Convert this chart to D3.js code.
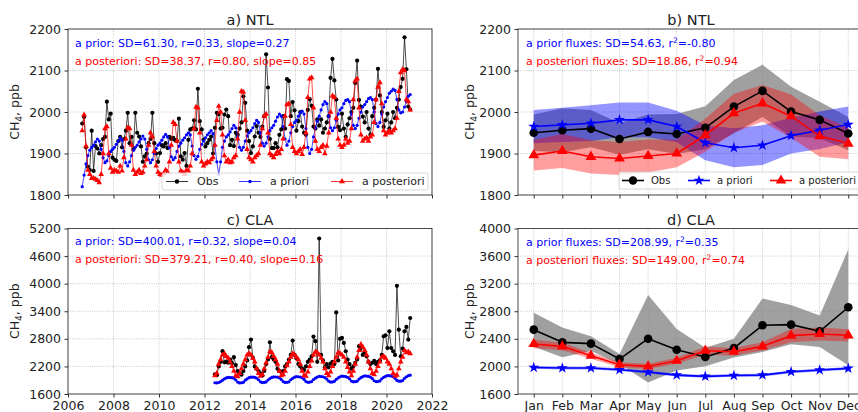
<!DOCTYPE html>
<html>
<head>
<meta charset="utf-8">
<title>CH4 NTL / CLA</title>
<script src="https://d3js.org/d3.v7.min.js"></script>
<style>
body { margin: 0; background: #fff; }
svg { display: block; font-family: "DejaVu Sans", sans-serif; }
</style>
</head>
<body>
<div id="chart"></div>
<script>

// ---- tick labels / categories
var yearTicks = [2006, 2008, 2010, 2012, 2014, 2016, 2018, 2020, 2022];
var ntlTicks = [1800, 1900, 2000, 2100, 2200];
var claTicks = [1600, 2200, 2800, 3400, 4000, 4600, 5200];
var claMonthTicks = [1600, 2000, 2400, 2800, 3200, 3600, 4000];
var months = ["Jan", "Feb", "Mar", "Apr", "May", "Jun", "Jul", "Aug", "Sep", "Oct", "Nov", "Dec"];

// first month of each monthly record [year, month]
var ntlStart = [2006, 8];
var claStart = [2012, 6];

// ---- NTL monthly series, Aug 2006 .. Jan 2021 (ppb)
var ntlObs = [
  1972, 1988, 1915, 1868, 1860,
  1955, 1858, 1918, 1912, 1900, 1920, 1935, 1940, 2025, 1982, 1996, 1890,
  1885, 1882, 1930, 1940, 1915, 1935, 1955, 1998, 1925, 1940, 1910, 1998,
  1950, 1941, 1917, 1880, 1893, 1900, 1925, 1935, 1998, 1925, 1900, 1880,
  1901, 1920, 1917, 1925, 1913, 1940, 1935, 1938, 1932, 1930, 1984, 1893,
  1885, 1901, 1870, 1933, 1958, 1960, 1980, 1958, 2056, 1978, 1958, 1933,
  1917, 1925, 1933, 1941, 1900, 1962, 1998, 1995, 1960, 1962, 1994, 2006,
  1990, 1920, 1933, 1918, 1950, 1945, 1960, 1975, 2038, 2022, 1955, 1930,
  1901, 1917, 1941, 1966, 1950, 1940, 1965, 1990, 2139, 2059, 1935, 1913,
  1913, 1925, 1915, 1945, 1958, 1990, 1960, 2079, 2075, 1990, 2024, 2004,
  1955, 1978, 2000, 1965, 1950, 1945, 2005, 2031, 2015, 1965, 1960, 1982,
  1967, 1982, 1950, 1960, 1975, 1990, 2082, 2128, 2076, 2030, 1964, 1956,
  1996, 1960, 1940, 1970, 1985, 2000, 2010, 2070, 2124, 2029, 2013, 1989,
  1975, 2000, 1960, 1945, 1990, 2010, 2030, 2104, 2040, 2000, 1964, 1980,
  1996, 1960, 1975, 2000, 1985, 2010, 2030, 2060, 2080, 2180, 2103, 2013,
  2006
];
var ntlPrior = [
  1820, 1848, 1875, 1895, 1908,
  1915, 1920, 1928, 1935, 1930, 1910, 1890, 1878, 1882, 1895, 1905, 1910,
  1915, 1922, 1930, 1938, 1932, 1905, 1878, 1870, 1880, 1895, 1908, 1915,
  1920, 1928, 1935, 1942, 1935, 1910, 1885, 1878, 1885, 1900, 1912, 1920,
  1925, 1932, 1940, 1946, 1940, 1915, 1892, 1885, 1890, 1905, 1918, 1925,
  1932, 1938, 1945, 1950, 1945, 1918, 1895, 1886, 1893, 1910, 1922, 1930,
  1938, 1945, 1950, 1955, 1948, 1920, 1880, 1850, 1880, 1915, 1930, 1940,
  1945, 1952, 1960, 1968, 1962, 1940, 1915, 1908, 1915, 1930, 1942, 1950,
  1955, 1962, 1972, 1980, 1975, 1950, 1925, 1918, 1925, 1940, 1955, 1962,
  1968, 1978, 1988, 1995, 1990, 1965, 1935, 1920, 1930, 1950, 1965, 1975,
  1980, 1990, 1998, 2002, 1995, 1960, 1915, 1900, 1910, 1940, 1962, 1978,
  1990, 2005, 2018, 2025, 2020, 1990, 1962, 1955, 1962, 1980, 1995, 2005,
  2010, 2020, 2028, 2030, 2025, 1995, 1968, 1960, 1968, 1985, 2000, 2012,
  2018, 2025, 2032, 2035, 2030, 2000, 1972, 1965, 1975, 1995, 2012, 2025,
  2035, 2045, 2050, 2055, 2052, 2030, 2005, 1998, 2000, 2012, 2025, 2038,
  2042
];
var ntlPost = [
  1955, 1993, 1918, 1860, 1850,
  1840, 1840, 1838, 1835, 1830, 1850, 1900, 1960, 1965, 1900, 1865, 1855,
  1860, 1858, 1855, 1870, 1858, 1890, 1935, 1962, 1960, 1920, 1860, 1850,
  1855, 1860, 1852, 1855, 1870, 1885, 1920, 1950, 1940, 1905, 1870, 1855,
  1850, 1848, 1852, 1860, 1855, 1880, 1920, 1975, 1970, 1930, 1880, 1858,
  1855, 1850, 1860, 1858, 1870, 1900, 1960, 2012, 2010, 1950, 1880, 1870,
  1875, 1880, 1878, 1885, 1890, 1920, 1980, 2014, 2000, 1945, 1895, 1880,
  1885, 1878, 1880, 1890, 1895, 1935, 2000, 2050, 2048, 1980, 1910, 1890,
  1885, 1880, 1890, 1895, 1900, 1920, 1960, 1990, 1995, 1950, 1900, 1895,
  1890, 1898, 1905, 1900, 1910, 1935, 1990, 2018, 2020, 1970, 1915, 1905,
  1900, 1905, 1910, 1898, 1915, 1950, 2035, 2080, 2083, 2010, 1930, 1910,
  1905, 1915, 1920, 1900, 1918, 1950, 2000, 2039, 2035, 1985, 1935, 1920,
  1915, 1920, 1935, 1925, 1930, 1960, 2030, 2075, 2080, 2010, 1945, 1930,
  1935, 1938, 1930, 1940, 1945, 1975, 2030, 2060, 2071, 2020, 1955, 1945,
  1950, 1955, 1950, 1955, 1960, 1985, 2050, 2095, 2103, 2100, 2030, 2025,
  2005
];

// ---- CLA monthly series, Jun 2012 .. Jan 2021 (ppb)
var claObs = [
  2027, 2010, 2200, 2300, 2532, 2290, 2300,
  2280, 2350, 2270, 2400, 2230, 2100, 2050, 2020, 2100, 2200, 2330, 2618,
  2784, 2390, 2200, 2150, 2100, 2050, 2000, 2100, 2250, 2350, 2726, 2400,
  2350, 2300, 2150, 2100, 2080, 2100, 2200, 2250, 2350, 2450, 2762, 2450,
  2380, 2250, 2200, 2150, 2120, 2200, 2300, 2350, 2420, 2850, 2750, 2300,
  4983, 2450, 2330, 2180, 2250, 2180, 2260, 2300, 2250, 3375, 2330, 2800,
  2820, 2712, 2530, 2350, 2250, 2150, 2200, 2280, 2350, 2640, 2600, 2450,
  2500, 2420, 2300, 2250, 2280, 2320, 2250, 2300, 2330, 2450, 2856, 2878,
  2600, 2964, 2600, 2530, 2450, 3952, 3000, 2420, 2590, 2964, 3058, 2784,
  3253
];
var claPrior = [
  1845, 1840, 1850, 1870, 1900, 1930, 1950,
  1960, 1958, 1955, 1940, 1905, 1860, 1840, 1845, 1855, 1900, 1930, 1955,
  1968, 1965, 1962, 1945, 1910, 1865, 1848, 1852, 1862, 1905, 1935, 1960,
  1972, 1970, 1968, 1950, 1915, 1870, 1852, 1855, 1865, 1910, 1940, 1965,
  1978, 1975, 1970, 1955, 1920, 1872, 1855, 1860, 1870, 1915, 1945, 1970,
  1985, 1980, 1975, 1958, 1925, 1878, 1860, 1862, 1875, 1920, 1950, 1975,
  1990, 1985, 1980, 1962, 1930, 1882, 1865, 1868, 1880, 1925, 1955, 1980,
  1995, 1990, 1985, 1968, 1935, 1888, 1870, 1872, 1885, 1930, 1962, 1985,
  2000, 1998, 1992, 1975, 1940, 1895, 1878, 1880, 1892, 1940, 1975, 1998,
  2010
];
var claPost = [
  2000, 2050, 2250, 2350, 2450, 2480, 2420,
  2380, 2300, 2200, 2100, 2000, 1980, 2050, 2150, 2250, 2350, 2450, 2480,
  2450, 2380, 2300, 2150, 2050, 1990, 2020, 2150, 2280, 2400, 2520, 2500,
  2420, 2350, 2250, 2100, 2000, 2020, 2100, 2220, 2300, 2400, 2480, 2450,
  2400, 2350, 2250, 2100, 2000, 1990, 2080, 2200, 2320, 2450, 2520, 2500,
  2450, 2380, 2300, 2150, 2050, 2000, 2080, 2200, 2300, 2400, 2500, 2480,
  2450, 2400, 2300, 2180, 2080, 2000, 2100, 2250, 2400, 2550, 2680, 2620,
  2550, 2450, 2300, 2150, 2050, 2020, 2100, 2200, 2300, 2400, 2420, 2380,
  2300, 2250, 2150, 2050, 1990, 2010, 2150, 2300, 2400, 2550, 2500, 2520,
  2480
];

// ---- monthly climatology (mean and standard deviation, ppb)
var ntlObsMean = [1950, 1956, 1960, 1935, 1952, 1947, 1962, 2013, 2051, 2001, 1981, 1948];
var ntlObsSd = [44, 53, 45, 38, 42, 48, 52, 64, 63, 60, 44, 40];
var ntlPriorMean = [1965, 1969, 1973, 1981, 1981, 1965, 1926, 1914, 1920, 1943, 1956, 1970];
var ntlPriorSd = [40, 41, 43, 42, 42, 38, 42, 47, 48, 43, 45, 43];
var ntlPostMean = [1896, 1906, 1892, 1888, 1894, 1900, 1944, 1997, 2021, 1990, 1942, 1924];
var ntlPostSd = [37, 41, 40, 40, 40, 33, 40, 47, 44, 52, 50, 38];

var claObsMean = [2533, 2349, 2330, 2107, 2402, 2242, 2136, 2267, 2596, 2606, 2509, 2858];
var claObsSd = [247, 215, 108, 72, 634, 300, 133, 136, 388, 285, 228, 840];
var claPriorMean = [1985, 1976, 1976, 1952, 1918, 1874, 1855, 1869, 1874, 1922, 1947, 1971];
var claPriorSd = [20, 20, 20, 20, 20, 20, 20, 20, 20, 20, 20, 20];
var claPostMean = [2325, 2291, 2155, 2024, 2000, 2082, 2228, 2213, 2291, 2446, 2470, 2451];
var claPostSd = [60, 55, 45, 35, 38, 45, 60, 55, 60, 95, 95, 88];

// ---- statistics printed in the panels
var statsA = ["a prior: SD=61.30, r=0.33, slope=0.27", "a posteriori: SD=38.37, r=0.80, slope=0.85"];
var statsC = ["a prior: SD=400.01, r=0.32, slope=0.04", "a posteriori: SD=379.21, r=0.40, slope=0.16"];
var statsB = [["a prior fluxes: SD=54.63, r", "=-0.80"], ["a posteriori fluxes: SD=18.86, r", "=0.94"]];
var statsD = [["a prior fluxes: SD=208.99, r", "=0.35"], ["a posteriori fluxes: SD=149.00, r", "=0.74"]];

var BLUE = "#0000ff", RED = "#ff0000", BLACK = "#000000";

function monthDates(start, n) {
  return d3.range(n).map(function(i) { return start[0] + (start[1] - 1 + i + 0.5) / 12; });
}

var svg = d3.select("#chart").append("svg")
  .attr("width", 858)
  .attr("height", 412);

svg.append("rect").attr("width", 858).attr("height", 412).attr("fill", "#fff");

// ---- one set of axes
function makePanel(p) {
  var g = svg.append("g");

  // dotted grid
  g.append("g").selectAll("line").data(p.xTicks).join("line")
    .attr("x1", function(d) { return p.x(d); }).attr("x2", function(d) { return p.x(d); })
    .attr("y1", p.y.range()[1]).attr("y2", p.y.range()[0])
    .attr("stroke", "#b0b0b0").attr("stroke-width", 0.8).attr("stroke-dasharray", "0.8,1.4");
  g.append("g").selectAll("line").data(p.yTicks).join("line")
    .attr("y1", function(d) { return p.y(d); }).attr("y2", function(d) { return p.y(d); })
    .attr("x1", p.x.range()[0]).attr("x2", p.x.range()[1])
    .attr("stroke", "#b0b0b0").attr("stroke-width", 0.8).attr("stroke-dasharray", "0.8,1.4");

  var ax = g.append("g")
    .attr("transform", "translate(0," + p.y.range()[0] + ")")
    .call(d3.axisBottom(p.x).tickValues(p.xTicks).tickSize(3.5).tickPadding(3.5).tickFormat(p.xFormat));
  var ay = g.append("g")
    .attr("transform", "translate(" + p.x.range()[0] + ",0)")
    .call(d3.axisLeft(p.y).tickValues(p.yTicks).tickSize(3.5).tickPadding(3.5).tickFormat(d3.format("d")));
  [ax, ay].forEach(function(a) {
    a.select(".domain").remove();
    a.attr("font-size", 12.5).attr("font-family", null);
    a.selectAll("text").attr("fill", "#222");
    a.selectAll("line").attr("stroke-width", 0.8);
  });

  svg.append("clipPath").attr("id", p.id).append("rect")
    .attr("x", p.x.range()[0]).attr("y", p.y.range()[1])
    .attr("width", p.x.range()[1] - p.x.range()[0])
    .attr("height", p.y.range()[0] - p.y.range()[1]);
  var layer = g.append("g").attr("clip-path", "url(#" + p.id + ")");

  // title
  g.append("text")
    .attr("x", (p.x.range()[0] + p.x.range()[1]) / 2)
    .attr("y", p.y.range()[1] - 4)
    .attr("text-anchor", "middle").attr("font-size", 14.5).attr("fill", "#222")
    .text(p.title);

  // y label with subscript
  var yl = g.append("text")
    .attr("transform", "translate(" + p.ylabelX + "," + (p.y.range()[0] + p.y.range()[1]) / 2 + ") rotate(-90)")
    .attr("text-anchor", "middle").attr("font-size", 12.5).attr("fill", "#222");
  yl.append("tspan").text("CH");
  yl.append("tspan").attr("dy", 3).attr("font-size", 9).text("4");
  yl.append("tspan").attr("dy", -3).text(", ppb");

  return { g: g, layer: layer, x: p.x, y: p.y };
}

function frameBox(P) {
  P.g.append("rect")
    .attr("x", P.x.range()[0]).attr("y", P.y.range()[1])
    .attr("width", P.x.range()[1] - P.x.range()[0])
    .attr("height", P.y.range()[0] - P.y.range()[1])
    .attr("fill", "none").attr("stroke", "#222").attr("stroke-width", 0.8);
}

function marker(sel, type, size, color) {
  if (type === "circle") {
    sel.append("circle").attr("r", size).attr("fill", color);
  } else {
    var sym = type === "star" ? d3.symbolStar : d3.symbolTriangle;
    sel.append("path").attr("d", d3.symbol(sym, size)).attr("fill", color);
  }
}

function series(P, xs, vals, color, type, size, lw) {
  var line = d3.line()
    .x(function(d, i) { return P.x(xs[i]); })
    .y(function(d) { return P.y(d); });
  P.layer.append("path").datum(vals)
    .attr("d", line).attr("fill", "none")
    .attr("stroke", color).attr("stroke-width", lw).attr("stroke-linejoin", "round");
  P.layer.append("g").selectAll("g").data(vals).join("g")
    .attr("transform", function(d, i) { return "translate(" + P.x(xs[i]) + "," + P.y(d) + ")"; })
    .each(function() { marker(d3.select(this), type, size, color); });
}

function band(P, mean, sd, color, opacity) {
  var area = d3.area()
    .x(function(d, i) { return P.x(i + 1); })
    .y0(function(d, i) { return P.y(d - sd[i]); })
    .y1(function(d, i) { return P.y(d + sd[i]); });
  P.layer.append("path").datum(mean).attr("d", area)
    .attr("fill", color).attr("fill-opacity", opacity).attr("stroke", "none");
}

function statsText(P, x, y, lines, sup) {
  lines.forEach(function(t, k) {
    var tx = P.g.append("text").attr("x", x).attr("y", y + k * 17.5)
      .attr("font-size", 11).attr("fill", k === 0 ? BLUE : RED);
    if (sup) {
      tx.append("tspan").text(t[0]);
      tx.append("tspan").attr("dy", -4).attr("font-size", 7.5).text("2");
      tx.append("tspan").attr("dy", 4).text(t[1]);
    } else {
      tx.text(t);
    }
  });
}

function legend(P, x, y, w, h, fs, gap, items) {
  var lg = P.g.append("g").attr("transform", "translate(" + x + "," + y + ")");
  lg.append("rect").attr("width", w).attr("height", h).attr("rx", 2)
    .attr("fill", "#fff").attr("fill-opacity", 0.8)
    .attr("stroke", "#cccccc").attr("stroke-width", 0.8);
  items.forEach(function(it) {
    lg.append("line").attr("x1", it.x).attr("x2", it.x + it.len)
      .attr("y1", h / 2).attr("y2", h / 2)
      .attr("stroke", it.color).attr("stroke-width", it.lw);
    var m = lg.append("g").attr("transform", "translate(" + (it.x + it.len / 2) + "," + h / 2 + ")");
    marker(m, it.type, it.size, it.color);
    lg.append("text").attr("x", it.x + it.len + gap).attr("y", h / 2 + fs * 0.36)
      .attr("font-size", fs).attr("fill", "#222").text(it.label);
  });
}

// ---- scales
var xYear = d3.scaleLinear().domain([2006, 2022]).range([68, 432]);
var xMonthTop = d3.scaleLinear().domain([0.45, 12.55]).range([518, 864]);
var xMonthBot = d3.scaleLinear().domain([0.45, 12.55]).range([518, 864]);

var ntlDates = monthDates(ntlStart, ntlObs.length);
var claDates = monthDates(claStart, claObs.length);
var monthIdx = d3.range(1, 13);

// a) NTL time series
var A = makePanel({
  id: "clipA", title: "a) NTL", ylabelX: 19,
  x: xYear, y: d3.scaleLinear().domain([1800, 2200]).range([195, 29]),
  xTicks: yearTicks, yTicks: ntlTicks, xFormat: function() { return ""; }
});
series(A, ntlDates, ntlObs, BLACK, "circle", 2.1, 0.7);
series(A, ntlDates, ntlPrior, BLUE, "circle", 1.6, 0.7);
series(A, ntlDates, ntlPost, RED, "triangle", 14, 0.7);
statsText(A, 75, 47, statsA, false);
legend(A, 162, 173, 266, 17, 11, 9, [
  { x: 4, len: 22, color: BLACK, lw: 0.8, type: "circle", size: 2.2, label: "Obs" },
  { x: 77, len: 22, color: BLUE, lw: 0.8, type: "circle", size: 1.7, label: "a priori" },
  { x: 169, len: 22, color: RED, lw: 0.8, type: "triangle", size: 16, label: "a posteriori" }
]);
frameBox(A);

// b) NTL monthly climatology
var B = makePanel({
  id: "clipB", title: "b) NTL", ylabelX: 474,
  x: xMonthTop, y: d3.scaleLinear().domain([1800, 2200]).range([195, 29]),
  xTicks: monthIdx, yTicks: ntlTicks, xFormat: function() { return ""; }
});
band(B, ntlObsMean, ntlObsSd, "#808080", 0.75);
band(B, ntlPriorMean, ntlPriorSd, BLUE, 0.42);
band(B, ntlPostMean, ntlPostSd, RED, 0.38);
series(B, monthIdx, ntlObsMean, BLACK, "circle", 4.3, 1.6);
series(B, monthIdx, ntlPriorMean, BLUE, "star", 38, 1.6);
series(B, monthIdx, ntlPostMean, RED, "triangle", 50, 1.6);
statsText(B, 526, 47, statsB, true);
legend(B, 619, 172, 260, 17, 10, 7, [
  { x: 3, len: 22, color: BLACK, lw: 1.6, type: "circle", size: 4.2, label: "Obs" },
  { x: 69, len: 22, color: BLUE, lw: 1.6, type: "star", size: 36, label: "a priori" },
  { x: 151, len: 22, color: RED, lw: 1.6, type: "triangle", size: 48, label: "a posteriori" }
]);
frameBox(B);

// c) CLA time series
var C = makePanel({
  id: "clipC", title: "c) CLA", ylabelX: 19,
  x: xYear, y: d3.scaleLinear().domain([1600, 5200]).range([394, 228.5]),
  xTicks: yearTicks, yTicks: claTicks, xFormat: d3.format("d")
});
series(C, claDates, claObs, BLACK, "circle", 2.1, 0.7);
series(C, claDates, claPrior, BLUE, "circle", 1.6, 0.7);
series(C, claDates, claPost, RED, "triangle", 14, 0.7);
statsText(C, 75, 245, statsC, false);
frameBox(C);

// d) CLA monthly climatology
var D = makePanel({
  id: "clipD", title: "d) CLA", ylabelX: 474,
  x: xMonthBot, y: d3.scaleLinear().domain([1600, 4000]).range([394, 228.5]),
  xTicks: monthIdx, yTicks: claMonthTicks, xFormat: function(d) { return months[d - 1]; }
});
band(D, claObsMean, claObsSd, "#808080", 0.75);
band(D, claPriorMean, claPriorSd, BLUE, 0.42);
band(D, claPostMean, claPostSd, RED, 0.38);
series(D, monthIdx, claObsMean, BLACK, "circle", 4.3, 1.6);
series(D, monthIdx, claPriorMean, BLUE, "star", 38, 1.6);
series(D, monthIdx, claPostMean, RED, "triangle", 50, 1.6);
statsText(D, 526, 246, statsD, true);
frameBox(D);

</script>
</body>
</html>
